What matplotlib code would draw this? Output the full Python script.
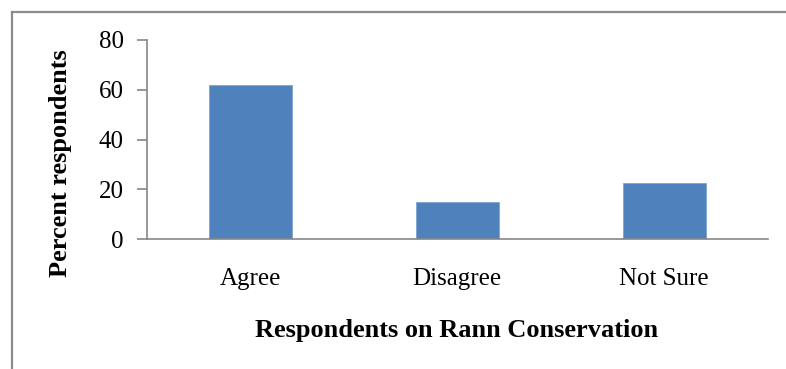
import matplotlib
matplotlib.use('Agg')
import matplotlib.pyplot as plt
from matplotlib.lines import Line2D

# survey answers (percent)
categories = ['Agree', 'Disagree', 'Not Sure']
percent = [62, 15, 22.5]

plt.rcParams['font.family'] = ['Liberation Serif', 'DejaVu Serif']

fig = plt.figure(figsize=(7.86, 3.69), dpi=100)
ax = fig.add_axes([0.1866, 0.3523, 0.7901, 0.5393])

axis_grey = '#868686'
ax.bar(range(len(categories)), percent, width=0.4, color='#4F81BD',
       edgecolor='#7FA3D0', linewidth=0.6)

ax.set_xlim(-0.5, len(categories) - 0.5)
ax.set_ylim(0, 80)
ax.set_yticks([0, 20, 40, 60, 80])
ax.set_xticks(range(len(categories)))
ax.set_xticklabels(categories)

for side in ['top', 'right']:
    ax.spines[side].set_visible(False)
for side in ['left', 'bottom']:
    ax.spines[side].set_color(axis_grey)
    ax.spines[side].set_linewidth(1.2)

ax.tick_params(axis='y', direction='out', length=7, width=1.2, color=axis_grey,
               labelsize=18, pad=9.5)
ax.tick_params(axis='x', length=0, labelsize=18, pad=21)

fig.text(61 / 786, 1 - 163.5 / 369, 'Percent respondents', rotation=90,
         ha='center', va='center', fontsize=19, fontweight='bold')
fig.text(457 / 786, 1 - 337 / 369, 'Respondents on Rann Conservation',
         ha='center', va='baseline', fontsize=19, fontweight='bold')

# outer frame, only top and left edges show in the crop
frame_y = 1 - 12 / 369
frame_x = 11.5 / 786
fig.add_artist(Line2D([frame_x, 1], [frame_y, frame_y], transform=fig.transFigure,
                      color='#8c8c8c', linewidth=1.6))
fig.add_artist(Line2D([frame_x, frame_x], [0, frame_y], transform=fig.transFigure,
                      color='#8c8c8c', linewidth=1.6))

fig.savefig('out.png', dpi=100)
